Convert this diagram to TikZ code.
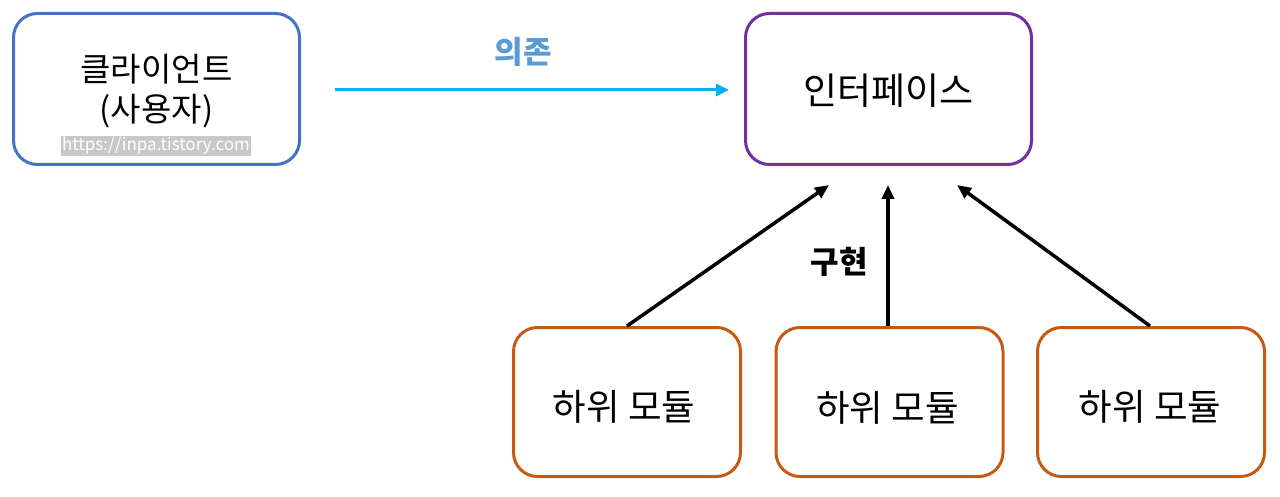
\documentclass[tikz,border=0pt]{standalone}
\usepackage{fontspec}
\setmainfont{Noto Sans CJK KR}
\usetikzlibrary{arrows.meta}
\definecolor{cblue}{HTML}{4472C4}
\definecolor{cpurple}{HTML}{7030A0}
\definecolor{corange}{HTML}{C55A11}
\definecolor{ccyan}{HTML}{00B0F0}
\definecolor{clabel}{HTML}{5B9BD5}
\definecolor{cwm}{HTML}{C8C8C8}
\begin{document}
\begin{tikzpicture}[x=1pt,y=-1pt,
  box/.style={draw,line width=3pt,rounded corners=24pt,fill=white},
  sub/.style={box,draw=corange,minimum width=227pt,minimum height=149pt},
  subtext/.style={font=\fontsize{36.5}{42}\selectfont},
  impl/.style={-{Triangle[length=14pt,width=12pt]},line width=3.5pt,black},
  lbl/.style={font=\bfseries\fontsize{31}{36}\selectfont}]
\useasboundingbox (0,0) rectangle (1280,497);
\node[box,draw=cblue,minimum width=286pt,minimum height=151pt] (client) at (156.5,89) {};
\node[font=\fontsize{33}{40}\selectfont,align=center] (ctext) at (156.5,91) {클라이언트\\(사용자)};
\node[fill=cwm,text=white,inner sep=1.5pt,font=\fontsize{17}{19}\selectfont] (wm) at (156,146) {https://inpa.tistory.com};
\node[box,draw=cpurple,minimum width=286pt,minimum height=151pt] (iface) at (888.5,89) {};
\node[font=\fontsize{37}{44}\selectfont] (itext) at (888.5,91) {인터페이스};
\node[sub] (s1) at (627,402) {};
\node[sub] (s2) at (889.5,402) {};
\node[sub] (s3) at (1151,402) {};
\node[subtext] (s1t) at (624,407) {하위 모듈};
\node[subtext] (s2t) at (887.5,408) {하위 모듈};
\node[subtext] (s3t) at (1150,407) {하위 모듈};
\coordinate (a1) at (335,90);
\coordinate (a2) at (729,90);
\draw[-{Triangle[length=13pt,width=12pt]},line width=3pt,ccyan] (a1) -- (a2);
\node[lbl,text=clabel] (dep) at (523,52) {의존};
\coordinate (t1) at (829,185);
\coordinate (t2) at (888,185);
\coordinate (t3) at (957,185);
\coordinate (b1) at (627,326);
\coordinate (b2) at (888,326);
\coordinate (b3) at (1150,326);
\draw[impl] (b1) -- (t1);
\draw[impl] (b2) -- (t2);
\draw[impl] (b3) -- (t3);
\node[lbl] (impllbl) at (839,262) {구현};
\end{tikzpicture}
\end{document}
